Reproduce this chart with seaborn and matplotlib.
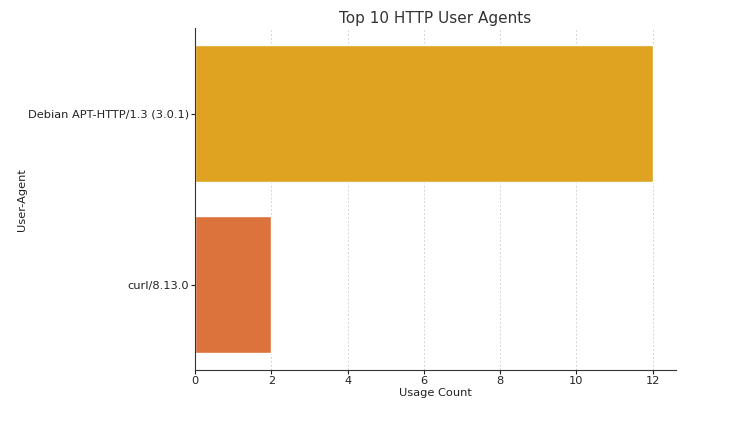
import matplotlib
matplotlib.use("Agg")
import matplotlib.pyplot as plt
import seaborn as sns
import pandas as pd

agents = ["Debian APT-HTTP/1.3 (3.0.1)", "curl/8.13.0"]
counts = [12, 2]
colors = ["#DFA321", "#DC733D"]

df = pd.DataFrame({"User-Agent": agents, "Usage Count": counts})

sns.set_style("white")
plt.rcParams['font.family'] = ['DejaVu Sans']

fig = plt.figure(figsize=(7.36, 4.4), dpi=100)
ax = fig.add_axes([0.265, 0.159, 0.653, 0.777])
sns.barplot(data=df, y="User-Agent", x="Usage Count", hue="User-Agent",
            palette=colors, legend=False, ax=ax, width=0.8, saturation=1)

ax.set_title("Top 10 HTTP User Agents", fontsize=11, color="#333333", pad=3.5)
ax.set_xlabel("Usage Count", fontsize=8.2, color="#222222", labelpad=2)
ax.set_ylabel("User-Agent", fontsize=8.2, color="#222222")
ax.yaxis.set_label_coords(-0.35, 0.5)
ax.xaxis.grid(True, linestyle="--", color="#d5d5d5", linewidth=0.7, dashes=(2, 2))
ax.set_axisbelow(True)
for s in ["top", "right"]:
    ax.spines[s].set_visible(False)
for s in ["left", "bottom"]:
    ax.spines[s].set_color("#333333")
ax.tick_params(axis="both", labelsize=8.2, colors="#222222", length=3, direction="out", pad=1)
ax.tick_params(left=True, bottom=True)

fig.savefig("out.png", dpi=100)
